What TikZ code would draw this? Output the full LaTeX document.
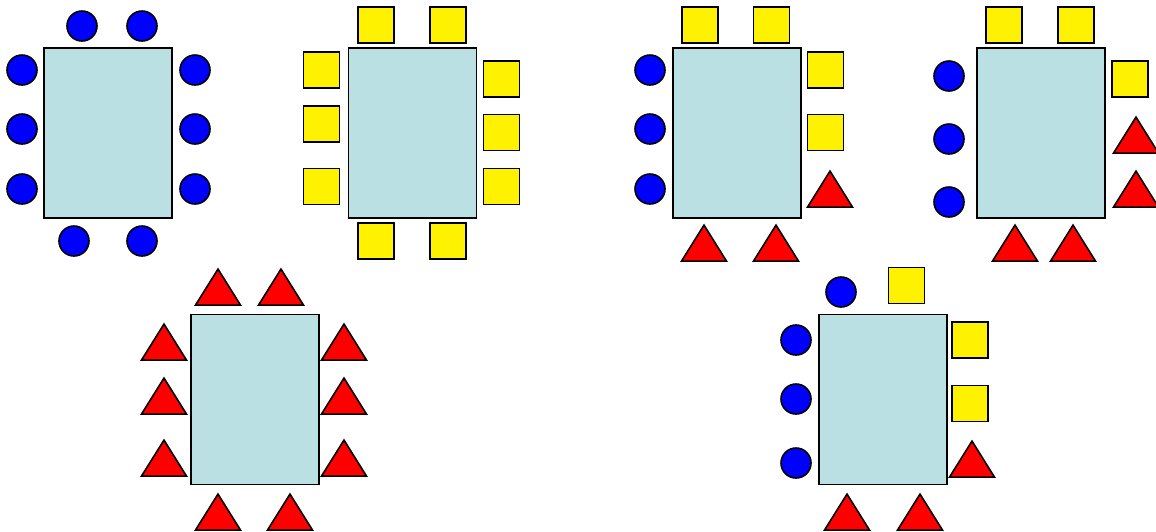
\documentclass[tikz,border=0pt]{standalone}
\usetikzlibrary{shapes.geometric}
\colorlet{tabletop}{rgb,255:red,187;green,224;blue,227}

\begin{document}
\begin{tikzpicture}[x=1pt, y=-1pt, line width=1.6pt,
    desk/.style={draw, fill=tabletop, rectangle, inner sep=0pt,
        minimum width=128pt, minimum height=170pt},
    roundseat/.style={draw, fill=blue, circle, inner sep=0pt, minimum size=30pt},
    squareseat/.style={draw, fill=yellow, rectangle, inner sep=0pt, minimum size=36pt},
    triseat/.style={draw, fill=red, isosceles triangle, isosceles triangle stretches,
        shape border rotate=90, inner sep=0pt, minimum width=45pt, minimum height=36pt,
        anchor=apex}]
        % page size
        \useasboundingbox (0,0) rectangle (1156,531);
        % tables
        \node[desk] (table1) at (108,133) {};
        \node[desk] (table2) at (412.5,133) {};
        \node[desk] (table3) at (737,133) {};
        \node[desk] (table4) at (1041,133) {};
        \node[desk] (table5) at (255,399.5) {};
        \node[desk] (table6) at (883,399.5) {};
        % table 1: round seats only
        \foreach \x/\y [count=\i] in {82/26, 142/26, 22/70, 22/129, 22/189,
            195/70, 195/129, 195/189, 74/241, 142/241}
        {
            \node[roundseat] (a\i) at (\x,\y) {};
        }
        % table 2: square seats only
        \foreach \x/\y [count=\i] in {376/25, 448/25, 321.5/70, 321.5/124, 321.5/186.5,
            501.5/79, 501.5/132.5, 501.5/186.5, 376/241, 448/241}
        {
            \node[squareseat] (b\i) at (\x,\y) {};
        }
        % table 3: mixed
        \foreach \x/\y [count=\i] in {700/25, 771.5/25, 825.5/70, 825.5/132.5}
        {
            \node[squareseat] (cs\i) at (\x,\y) {};
        }
        \foreach \y [count=\i] in {70, 129, 189}
        {
            \node[roundseat] (cr\i) at (650,\y) {};
        }
        \foreach \x/\y [count=\i] in {830/169, 704/223, 776/223}
        {
            \node[triseat] (ct\i) at (\x,\y) {};
        }
        % table 4: mixed
        \foreach \x/\y [count=\i] in {1004/25, 1076/25, 1130/79}
        {
            \node[squareseat] (ds\i) at (\x,\y) {};
        }
        \foreach \y [count=\i] in {76, 139, 202}
        {
            \node[roundseat] (dr\i) at (949,\y) {};
        }
        \foreach \x/\y [count=\i] in {1136/115, 1136/169, 1015/223, 1073/223}
        {
            \node[triseat] (dt\i) at (\x,\y) {};
        }
        % table 5: triangle seats only
        \foreach \x/\y [count=\i] in {218/267, 281/267, 164/322, 164/376, 164/438,
            344/322, 344/376, 344/438, 218/492, 290/492}
        {
            \node[triseat] (e\i) at (\x,\y) {};
        }
        % table 6: mixed
        \foreach \x/\y [count=\i] in {841/292, 796/340, 796/399, 796/463}
        {
            \node[roundseat] (fr\i) at (\x,\y) {};
        }
        \foreach \x/\y [count=\i] in {906.5/285.5, 970/340, 970/403.5}
        {
            \node[squareseat] (fs\i) at (\x,\y) {};
        }
        \foreach \x/\y [count=\i] in {972/439, 847/492, 920/492}
        {
            \node[triseat] (ft\i) at (\x,\y) {};
        }
    \end{tikzpicture}
\end{document}
